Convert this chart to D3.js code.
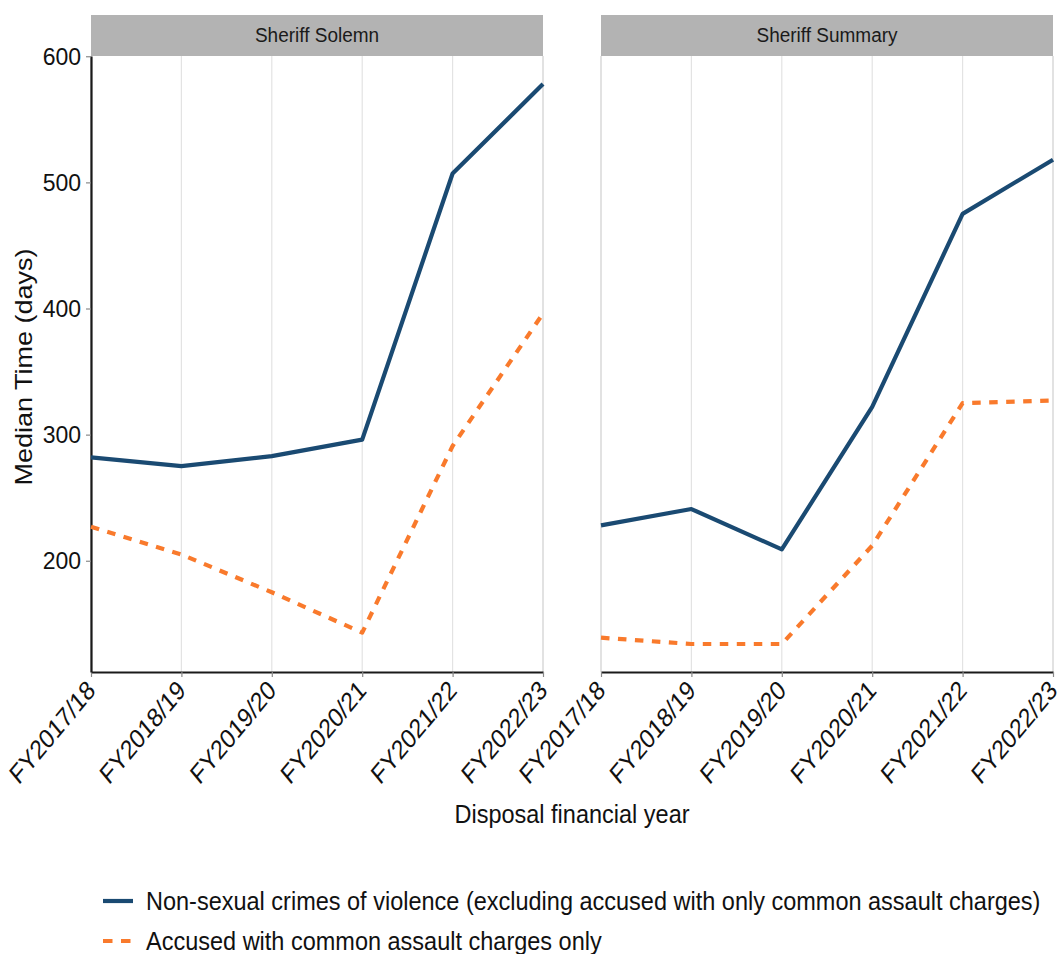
<!DOCTYPE html>
<html>
<head>
<meta charset="utf-8">
<script src="https://cdn.jsdelivr.net/npm/d3@7"></script>
<style>
  html, body { margin: 0; padding: 0; background: #fff; }
  svg { display: block; font-family: "Liberation Sans", Arial, Helvetica, sans-serif; }
</style>
</head>
<body>
<svg id="chart" width="1064" height="954"></svg>
<script>
// Disposal financial years (x categories)
const years = ["FY2017/18", "FY2018/19", "FY2019/20", "FY2020/21", "FY2021/22", "FY2022/23"];

// Court panels
const courts = ["Sheriff Solemn", "Sheriff Summary"];

// Series names
const seriesNames = [
  "Non-sexual crimes of violence (excluding accused with only common assault charges)",
  "Accused with common assault charges only"
];

// Median time in days, by court
const solemnViolence = [282, 275, 283, 296, 507, 578];
const solemnAssault  = [227, 205, 175, 143, 291, 396];
const summaryViolence = [228, 241, 209, 322, 475, 518];
const summaryAssault  = [139, 134, 134, 212, 325, 327];

const yTicks = [200, 300, 400, 500, 600];

const panelData = [
  [solemnViolence, solemnAssault],
  [summaryViolence, summaryAssault]
];

const colors = ["#1a4a72", "#f97a2c"];
const dashes = [null, "8.5,8.5"];

const svg = d3.select("#chart");

const plotTop = 56, plotBottom = 672;
const panelX = [91, 601];
const panelW = 452;
const stripTop = 15;
const vStretch = 1.07;

// y scale: padded data range, as a faceted ggplot-style chart
const allVals = panelData.flat(2);
const yMin = d3.min(allVals), yMax = d3.max(allVals);
const pad = (yMax - yMin) * 0.05;
const y = d3.scaleLinear().domain([yMin - pad, yMax + pad]).range([plotBottom, plotTop]);

function stretchedText(sel, x, yy, rot) {
  sel.attr("transform", `translate(${x},${yy})` + (rot ? ` rotate(${rot})` : "") + ` scale(1,${vStretch})`);
  return sel;
}

courts.forEach((court, p) => {
  const x0 = panelX[p];
  const x = d3.scalePoint().domain(years).range([x0, x0 + panelW]).padding(0);
  const g = svg.append("g");

  // strip header
  g.append("rect")
    .attr("x", x0).attr("y", stripTop)
    .attr("width", panelW).attr("height", plotTop - stripTop)
    .attr("fill", "#b3b3b3");
  stretchedText(g.append("text"), x0 + panelW / 2, 42)
    .attr("text-anchor", "middle")
    .attr("font-size", 19)
    .attr("fill", "#1a1a1a")
    .text(court);

  // vertical grid lines
  g.selectAll("line.grid").data(years).enter().append("line")
    .attr("class", "grid")
    .attr("x1", d => x(d)).attr("x2", d => x(d))
    .attr("y1", plotTop).attr("y2", plotBottom)
    .attr("stroke", (d, i) => (i === 0 || i === years.length - 1) ? "#cfcfcf" : "#e3e3e3")
    .attr("stroke-width", 1.2);

  // x axis
  const xAxis = d3.axisBottom(x).tickSize(5).tickSizeOuter(0).tickPadding(6);
  const xa = g.append("g").attr("transform", `translate(0,${plotBottom})`).call(xAxis);
  xa.select(".domain").attr("stroke", "#1a1a1a").attr("stroke-width", 2.2);
  xa.selectAll(".tick line").attr("stroke", "#8a8a8a").attr("stroke-width", 1.2);
  xa.selectAll(".tick text")
    .attr("font-size", 22.5)
    .attr("fill", "#111")
    .attr("text-anchor", "end")
    .attr("x", 0).attr("y", 0).attr("dy", null)
    .attr("transform", "translate(5,20) scale(1,1.2) rotate(-45)");

  // y axis only on the first panel
  if (p === 0) {
    const yAxis = d3.axisLeft(y).tickValues(yTicks).tickSize(5).tickSizeOuter(0).tickPadding(5);
    const ya = g.append("g").attr("transform", `translate(${x0},0)`).call(yAxis);
    ya.select(".domain").attr("stroke", "#1a1a1a").attr("stroke-width", 2.2);
    ya.selectAll(".tick line").attr("stroke", "#8a8a8a").attr("stroke-width", 1.2);
    ya.selectAll(".tick text")
      .attr("font-size", 23)
      .attr("fill", "#111")
      .attr("dy", null)
      .attr("dominant-baseline", "central");
  }

  // series lines
  const line = d3.line().x((d, i) => x(years[i])).y(d => y(d));
  panelData[p].forEach((vals, s) => {
    g.append("path")
      .datum(vals)
      .attr("d", line)
      .attr("fill", "none")
      .attr("stroke", colors[s])
      .attr("stroke-width", 4.2)
      .attr("stroke-linejoin", "round")
      .attr("stroke-dasharray", dashes[s]);
  });
});

// axis titles
stretchedText(svg.append("text"), 572, 823)
  .attr("text-anchor", "middle")
  .attr("font-size", 23.5)
  .attr("fill", "#111")
  .text("Disposal financial year");

svg.append("text")
  .attr("transform", `translate(32,${(plotTop + plotBottom) / 2 + 3}) rotate(-90) scale(${vStretch + 0.08},1)`)
  .attr("text-anchor", "middle")
  .attr("font-size", 23.5)
  .attr("fill", "#111")
  .text("Median Time (days)");

// legend
const legend = svg.append("g");
const legY = [901, 941];
seriesNames.forEach((name, s) => {
  legend.append("line")
    .attr("x1", 103).attr("x2", 133)
    .attr("y1", legY[s]).attr("y2", legY[s])
    .attr("stroke", colors[s])
    .attr("stroke-width", 4.2)
    .attr("stroke-dasharray", s === 1 ? "9.5,8.5" : null);
  stretchedText(legend.append("text"), 146, legY[s] + 9)
    .attr("font-size", 23.5)
    .attr("fill", "#111")
    .text(name);
});
</script>
</body>
</html>
